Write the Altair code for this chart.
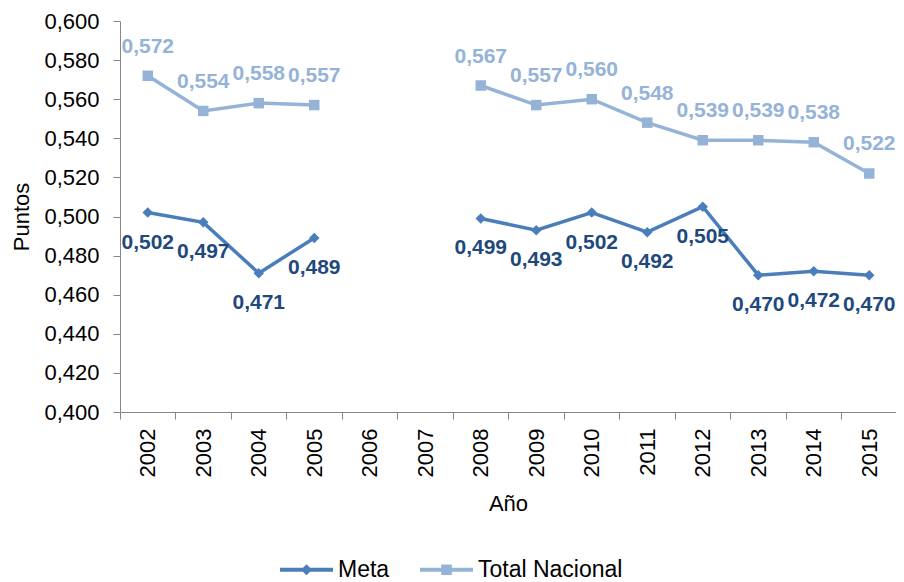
import altair as alt
import pandas as pd

years = [2002, 2003, 2004, 2005, 2006, 2007, 2008, 2009, 2010, 2011, 2012, 2013, 2014, 2015]
meta = [0.502, 0.497, 0.471, 0.489, None, None, 0.499, 0.493, 0.502, 0.492, 0.505, 0.470, 0.472, 0.470]
total = [0.572, 0.554, 0.558, 0.557, None, None, 0.567, 0.557, 0.560, 0.548, 0.539, 0.539, 0.538, 0.522]
series_names = ["Meta", "Total Nacional"]
y_ticks = [0.400, 0.420, 0.440, 0.460, 0.480, 0.500, 0.520, 0.540, 0.560, 0.580, 0.600]

line_colors = ["#4A7EBB", "#95B3D7"]
label_colors = ["#1F497D", "#95B3D7"]

rows = []
for name, vals in zip(series_names, [meta, total]):
    for yr, v in zip(years, vals):
        if v is None:
            continue
        rows.append({"series": name, "year": yr, "value": v, "segment": 1 if yr < 2006 else 2})
df = pd.DataFrame(rows)

FONT = "Liberation Sans"
LEFT = 112
W, H = 776, 391
STEP = 55.5

x_enc = alt.X(
    "year:Q",
    scale=alt.Scale(domain=[2001.5, 2001.5 + W / STEP], nice=False, zero=False),
    axis=alt.Axis(
        values=years,
        tickCount=40,
        format="d",
        title="Año",
        labelAngle=-90,
        labelAlign="right",
        labelBaseline="middle",
        labelOverlap=False,
        labelFlush=False,
        labelPadding=9,
        tickSize=7,
        tickOffset=-STEP / 2,
        labelOffset=STEP / 2,
        tickColor="#868686",
        domainColor="#868686",
        grid=False,
        titlePadding=17,
    ),
)

y_enc = alt.Y(
    "value:Q",
    scale=alt.Scale(domain=[0.4, 0.6], nice=False, zero=False),
    axis=alt.Axis(
        values=y_ticks,
        tickCount=40,
        title="Puntos",
        labelExpr="replace(format(datum.value, '.3f'), '.', ',')",
        labelOverlap=False,
        labelFlush=False,
        tickSize=7,
        labelPadding=14,
        tickColor="#868686",
        domainColor="#868686",
        grid=False,
        titlePadding=10,
    ),
)

base = alt.Chart(df)
layers = []
shapes = ["diamond", "square"]
sizes = [110, 110]
dys = [30, -29]
for i, name in enumerate(series_names):
    sub = base.transform_filter(alt.datum.series == name)
    layers.append(
        sub.mark_line(color=line_colors[i], strokeWidth=3.5).encode(
            x=x_enc, y=y_enc, detail="segment:N"
        )
    )
    layers.append(
        sub.mark_point(shape=shapes[i], filled=True, opacity=1, size=sizes[i], color=line_colors[i]).encode(
            x=x_enc, y=y_enc
        )
    )
    layers.append(
        sub.transform_calculate(lbl="replace(format(datum.value, '.3f'), '.', ',')")
        .mark_text(
            color=label_colors[i], font=FONT, fontSize=21, fontWeight="bold",
            dy=dys[i], baseline="middle", align="center",
        )
        .encode(x=x_enc, y=y_enc, text="lbl:N")
    )

# legend layer (no visible marks: null positions)
legend_df = pd.DataFrame({"series": series_names, "year": [None, None], "value": [None, None]})
meta_path = "M-1,-0.075L1,-0.075L1,0.075L-1,0.075Z M0,-0.21L0.21,0L0,0.21L-0.21,0Z"
total_path = "M-1,-0.075L1,-0.075L1,0.075L-1,0.075Z M-0.2,-0.2L0.2,-0.2L0.2,0.2L-0.2,0.2Z"
leg = alt.Legend(
    title=None, orient="none", legendX=160, legendY=522, direction="horizontal",
    labelFont=FONT, labelFontSize=23, labelColor="#000000", labelOffset=5,
    columnPadding=30, padding=0, symbolSize=2809, symbolStrokeWidth=0,
)
legend_layer = alt.Chart(legend_df).mark_point(filled=True, opacity=1, size=2809).encode(
    x=alt.X("year:Q"),
    y=alt.Y("value:Q"),
    color=alt.Color("series:N", scale=alt.Scale(domain=series_names, range=line_colors), legend=leg),
    shape=alt.Shape("series:N", scale=alt.Scale(domain=series_names, range=[meta_path, total_path]), legend=leg),
)
layers.append(legend_layer)

chart = (
    alt.layer(*layers)
    .properties(
        width=W, height=H,
        autosize=alt.AutoSizeParams(type="none"),
        padding={"left": LEFT, "top": 13, "right": 0, "bottom": 170},
    )
    .configure_view(stroke=None)
    .configure_axis(
        labelFont=FONT, labelFontSize=22, labelColor="#000000",
        titleFont=FONT, titleFontSize=22, titleFontWeight="normal", titleColor="#000000",
    )
)

chart.save("out.html", embed_options={"renderer": "svg", "actions": False})
